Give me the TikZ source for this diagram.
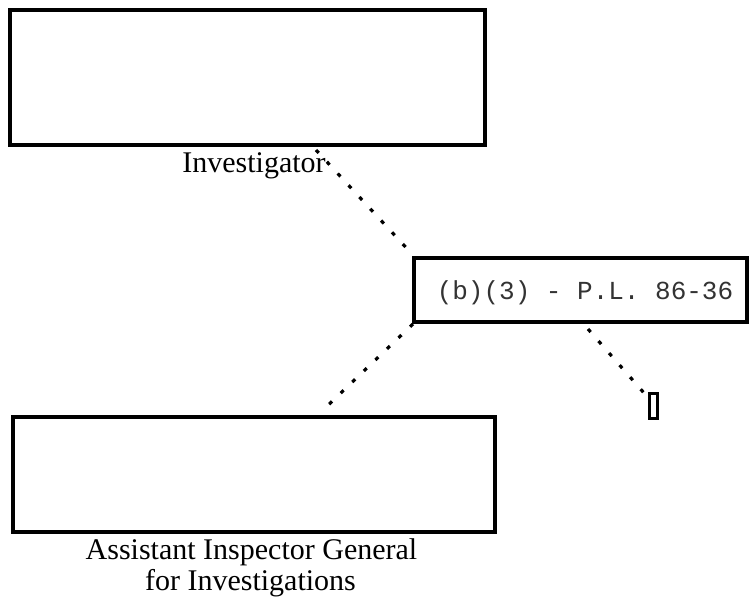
\documentclass[tikz,border=0pt]{standalone}
\usepackage{fontspec}
\setmainfont{Liberation Serif}
\newfontfamily\monofont{Liberation Mono}
\begin{document}
\begin{tikzpicture}[x=1pt,y=-1pt,
  boxA/.style={draw=black,line width=4.5pt,rectangle,inner sep=0pt,outer sep=0pt,fill=none},
  lbl/.style={font=\fontsize{30}{31}\selectfont,inner sep=0pt,anchor=base},
  monolbl/.style={font=\monofont\fontsize{26}{28}\selectfont,inner sep=0pt,anchor=base,text=black!80},
  dotline/.style={line width=3.2pt,dash pattern=on 4pt off 12pt}]
\useasboundingbox (0,0) rectangle (749,602);
\fill[white] (0,0) rectangle (749,602);
% boxes
\node[boxA,minimum width=475pt,minimum height=135pt] (inv) at (247.5,77.5) {};
\node[boxA,minimum width=333pt,minimum height=64pt] (mid) at (580.5,290) {};
\node[boxA,line width=3pt,minimum width=8pt,minimum height=25pt] (small) at (653,405.5) {};
\node[boxA,minimum width=482pt,minimum height=115pt] (aig) at (254,474.5) {};
% labels
\node[lbl] (invlbl) at (254,172) {Investigator};
\node[monolbl] (midlbl) at (585,299) {(b)(3) - P.L. 86-36};
\node[lbl] (aiglbl1) at (251.5,559) {Assistant Inspector General};
\node[lbl] (aiglbl2) at (250.5,590) {for Investigations};
% connector ends
\coordinate (c1) at (316,150);
\coordinate (c2) at (322,411);
\coordinate (c3) at (588,329);
\coordinate (c4) at (644,393);
\draw[dotline] (c1) -- ([shift={(-2,-4)}]mid.north west);
\draw[dotline] ([shift={(-1,2)}]mid.south west) -- (c2);
\draw[dotline] (c3) -- (c4);
\end{tikzpicture}
\end{document}
